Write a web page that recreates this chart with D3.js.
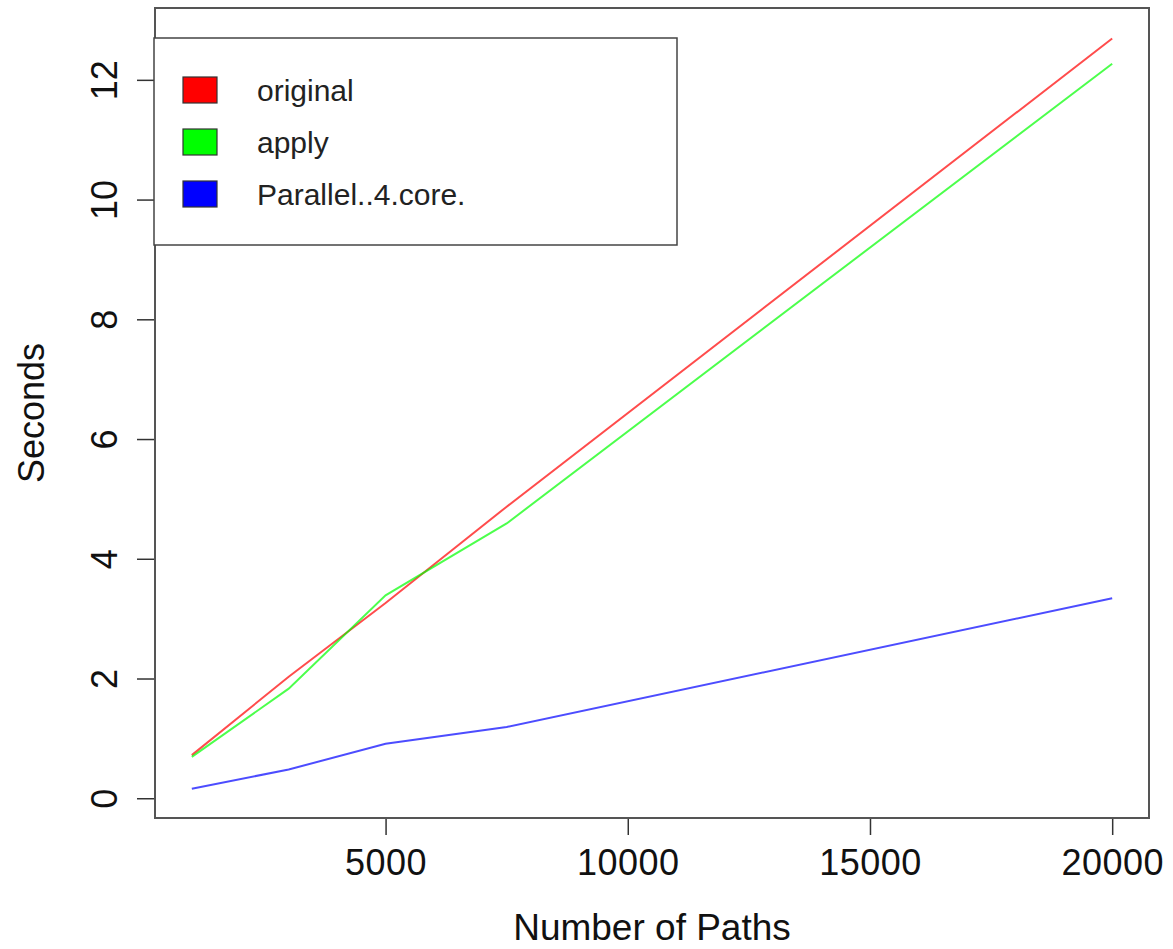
<!DOCTYPE html>
<html>
<head>
<meta charset="utf-8">
<script src="https://cdn.jsdelivr.net/npm/d3@7"></script>
<style>
  body { margin: 0; background: #fff; }
  svg { display: block; font-family: "Liberation Sans", Arial, sans-serif; }
</style>
</head>
<body>
<div id="vis"></div>
<script>
'use strict';

// Data
const paths = [1000, 3000, 5000, 7500, 20000];
const original = [0.72, 2.03, 3.26, 4.87, 12.69];
const applyTimes = [0.69, 1.83, 3.39, 4.59, 12.27];
const parallel = [0.16, 0.48, 0.91, 1.19, 3.34];

const seriesNames = ["original", "apply", "Parallel..4.core."];
const seriesColors = ["#ff0000", "#00ff00", "#0000ff"];
const xTicks = [5000, 10000, 15000, 20000];
const yTicks = [0, 2, 4, 6, 8, 10, 12];

const constraints = {
    width: 1173,
    height: 949,
    plot: {left: 155, right: 1149, top: 8, bottom: 818}
};

let svg = d3.select("#vis").append("svg")
    .attr("width", constraints.width)
    .attr("height", constraints.height);

// R style 4% padding on both axes
let xScale = d3.scaleLinear()
    .domain([240, 20760])
    .range([constraints.plot.left, constraints.plot.right]);
let yScale = d3.scaleLinear()
    .domain([-0.33, 13.2])
    .range([constraints.plot.bottom, constraints.plot.top]);

// Series lines
const series = [original, applyTimes, parallel];
let line = d3.line()
    .x((d, i) => xScale(paths[i]))
    .y((d) => yScale(d));

svg.append("g")
    .selectAll("path")
    .data(series)
    .enter()
    .append("path")
        .attr("d", (d) => line(d))
        .attr("fill", "none")
        .attr("stroke", (d, i) => seriesColors[i])
        .attr("stroke-opacity", 0.7)
        .attr("stroke-width", 2);

// Axes
let xAxis = svg.append("g")
    .attr("transform", "translate(0," + constraints.plot.bottom + ")")
    .call(d3.axisBottom(xScale).tickValues(xTicks).tickSize(17).tickPadding(14).tickFormat(d3.format("d")));
xAxis.select(".domain").remove();
xAxis.selectAll("line").attr("stroke", "#333").attr("stroke-width", 1.5);
xAxis.selectAll("text")
    .attr("fill", "#111")
    .style("font-size", "36px")
    .style("letter-spacing", "0.5px");

let yAxis = svg.append("g")
    .attr("transform", "translate(" + constraints.plot.left + ",0)")
    .call(d3.axisLeft(yScale).tickValues(yTicks).tickSize(18));
yAxis.select(".domain").remove();
yAxis.selectAll("line").attr("stroke", "#333").attr("stroke-width", 1.5);
yAxis.selectAll("text")
    .attr("x", null).attr("dy", null)
    .attr("text-anchor", "middle")
    .attr("transform", "translate(-38,0)rotate(-90)")
    .attr("fill", "#111")
    .style("font-size", "36px");

// Plot box
svg.append("rect")
    .attr("x", constraints.plot.left)
    .attr("y", constraints.plot.top)
    .attr("width", constraints.plot.right - constraints.plot.left)
    .attr("height", constraints.plot.bottom - constraints.plot.top)
    .attr("fill", "none")
    .attr("stroke", "#555")
    .attr("stroke-width", 2);

// Axis titles
svg.append("text")
    .attr("x", (constraints.plot.left + constraints.plot.right) / 2)
    .attr("y", 940)
    .attr("text-anchor", "middle")
    .attr("fill", "#111")
    .style("font-size", "37px")
    .text("Number of Paths");
svg.append("text")
    .attr("transform", "translate(44," + (constraints.plot.top + constraints.plot.bottom) / 2 + ")rotate(-90)")
    .attr("text-anchor", "middle")
    .attr("fill", "#111")
    .style("font-size", "36px")
    .text("Seconds");

// Legend
let legend = svg.append("g");
legend.append("rect")
    .attr("x", 154).attr("y", 38)
    .attr("width", 523).attr("height", 207)
    .attr("fill", "#fff")
    .attr("stroke", "#444")
    .attr("stroke-width", 1.5);
legend.selectAll("rect.key")
    .data(seriesNames)
    .enter()
    .append("rect")
        .attr("class", "key")
        .attr("x", 183)
        .attr("y", (d, i) => 77 + i * 52)
        .attr("width", 34)
        .attr("height", 26)
        .attr("fill", (d, i) => seriesColors[i])
        .attr("stroke", "#333")
        .attr("stroke-width", 1.2);
legend.selectAll("text")
    .data(seriesNames)
    .enter()
    .append("text")
        .attr("x", 257)
        .attr("y", (d, i) => 90 + i * 52)
        .attr("dy", "0.35em")
        .attr("fill", "#222")
        .style("font-size", "30px")
        .text((d) => d);
</script>
</body>
</html>
